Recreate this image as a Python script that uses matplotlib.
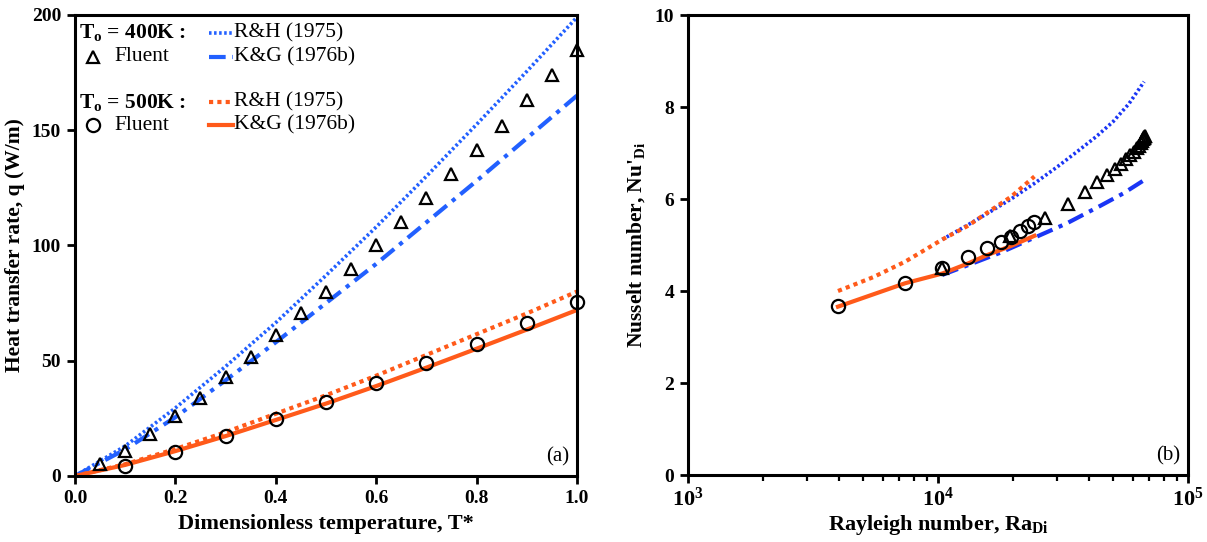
import matplotlib
matplotlib.use("Agg")
import matplotlib.pyplot as plt
from matplotlib.lines import Line2D
from matplotlib.ticker import FixedLocator, FixedFormatter, LogLocator, NullFormatter

plt.rcParams["font.family"] = ["Liberation Serif", "DejaVu Serif"]
plt.rcParams["mathtext.fontset"] = "custom"
plt.rcParams["mathtext.rm"] = "Liberation Serif"
plt.rcParams["mathtext.bf"] = "Liberation Serif:bold"

BLUE_A = "#2260ff"
BLUE_B = "#1a35f5"
ORANGE = "#ff5a1a"

# (a) heat transfer rate vs dimensionless temperature
t_400 = [0.05, 0.10, 0.15, 0.20, 0.25, 0.30, 0.35, 0.40, 0.45, 0.50,
         0.55, 0.60, 0.65, 0.70, 0.75, 0.80, 0.85, 0.90, 0.95, 1.00]
q_400_fluent = [5, 11, 18, 26, 34, 43, 51.5, 61, 70.5, 80,
                90, 100, 110, 120.5, 131, 141.5, 152, 163, 174, 185]
t_500 = [0.1, 0.2, 0.3, 0.4, 0.5, 0.6, 0.7, 0.8, 0.9, 1.0]
q_500_fluent = [4.5, 10.6, 17.2, 24.6, 32.3, 40.5, 48.8, 57.3, 66.5, 75.5]

t_line = [0.0, 0.1, 0.2, 0.3, 0.4, 0.5, 0.6, 0.7, 0.8, 0.9, 1.0]
q_400_rh = [0, 13, 29.5, 47.5, 66.5, 87, 108, 130, 152.5, 175.5, 199]
q_400_kg = [0, 11.5, 25.5, 41.5, 58, 75, 92, 110, 128, 146.5, 165]
q_500_rh = [0, 5.1, 11.7, 19.0, 27.0, 35.0, 43.5, 52.5, 61.5, 70.5, 80]
q_500_kg = [0, 4.8, 10.8, 17.3, 24.3, 31.4, 39.0, 47.0, 55.2, 63.5, 72]

# (b) Nusselt number vs Rayleigh number
ra_400_fluent = [10400, 19400, 26800, 33200, 38700, 43400, 47400, 50900, 53900, 56500,
                 58800, 60700, 62300, 63600, 64700, 65500, 66100, 66500, 66800, 67000]
nu_400_fluent = [4.51, 5.20, 5.58, 5.89, 6.15, 6.36, 6.52, 6.66, 6.77, 6.87,
                 6.95, 7.03, 7.10, 7.16, 7.21, 7.26, 7.30, 7.33, 7.35, 7.37]
ra_500_fluent = [3980, 7400, 10400, 13200, 15700, 17900, 19600, 21300, 22900, 24300]
nu_500_fluent = [3.67, 4.17, 4.49, 4.73, 4.93, 5.07, 5.18, 5.31, 5.41, 5.51]

ra_400_rh = [10400, 13000, 15800, 19600, 24300, 30000, 36000, 43000, 50100, 58000, 66700]
nu_400_rh = [5.12, 5.42, 5.69, 6.00, 6.34, 6.70, 7.03, 7.36, 7.68, 8.07, 8.55]
ra_400_kg = [10400, 13000, 17700, 24300, 32700, 44500, 55000, 66700]
nu_400_kg = [4.35, 4.55, 4.83, 5.16, 5.47, 5.85, 6.12, 6.41]
ra_500_rh = [3980, 5500, 7400, 10400, 13200, 15700, 19600, 24300]
nu_500_rh = [4.00, 4.30, 4.64, 5.12, 5.42, 5.70, 6.05, 6.49]
ra_500_kg = [3980, 7400, 10400, 13200, 15700, 19600, 24300]
nu_500_kg = [3.66, 4.17, 4.38, 4.60, 4.78, 4.98, 5.20]

DOT_A = (0, (0.7, 0.7))
DOT_O = (0, (1.0, 1.0))
DASHDOT = (0, (4, 1.6, 1.0, 1.6))

fig = plt.figure(figsize=(12.07, 5.42), dpi=100)
ax1 = fig.add_axes([0.0621, 0.1218, 0.4159, 0.8506])
ax2 = fig.add_axes([0.5700, 0.1236, 0.4143, 0.8487])

tri = dict(marker="^", ls="none", mfc="none", mec="black", ms=9, mew=1.6, clip_on=False, zorder=5)
circ = dict(marker="o", ls="none", mfc="none", mec="black", ms=9.5, mew=1.6, clip_on=False, zorder=5)

# panel (a)
ax1.plot(t_line, q_400_rh, color=BLUE_A, lw=2.6, ls=DOT_A)
ax1.plot(t_line, q_400_kg, color=BLUE_A, lw=3.0, ls=DASHDOT)
ax1.plot(t_line, q_500_rh, color=ORANGE, lw=3.0, ls=DOT_O)
ax1.plot(t_line, q_500_kg, color=ORANGE, lw=3.0)
ax1.plot(t_400, q_400_fluent, **tri)
ax1.plot(t_500, q_500_fluent, **circ)
ax1.set_xlim(0, 1)
ax1.set_ylim(0, 200)
ax1.set_xticks([0.0, 0.2, 0.4, 0.6, 0.8, 1.0])
ax1.set_xticklabels(["0.0", "0.2", "0.4", "0.6", "0.8", "1.0"])
ax1.set_yticks([0, 50, 100, 150, 200])
ax1.set_xlabel("Dimensionless temperature, T*", fontsize=16, fontweight="bold", labelpad=5)
ax1.set_ylabel("Heat transfer rate, q (W/m)", fontsize=15.5, fontweight="bold", labelpad=5)
ax1.text(0.985, 0.02, "(a)", transform=ax1.transAxes, ha="right", va="bottom", fontsize=15)

# legend block drawn by hand in axes fraction
tr = ax1.transAxes
rows = [0.961, 0.909, 0.811, 0.761]
ax1.text(0.008, rows[0], r"$\mathbf{T_o}$ = 400K :", transform=tr, fontsize=15.5,
         fontweight="bold", va="center")
ax1.text(0.008, rows[2], r"$\mathbf{T_o}$ = 500K :", transform=tr, fontsize=15.5,
         fontweight="bold", va="center")
ax1.add_line(Line2D([0.035], [rows[1]], transform=tr, **tri))
ax1.add_line(Line2D([0.035], [rows[3]], transform=tr, **circ))
ax1.text(0.078, rows[1], "Fluent", transform=tr, fontsize=15.5, va="center")
ax1.text(0.078, rows[3], "Fluent", transform=tr, fontsize=15.5, va="center")
samples = [(BLUE_A, DOT_A, 2.6), (BLUE_A, DASHDOT, 3.0), (ORANGE, DOT_O, 3.0), (ORANGE, "-", 3.0)]
names = ["R&H (1975)", "K&G (1976b)", "R&H (1975)", "K&G (1976b)"]
for y, (c, ls, lw), name in zip(rows, samples, names):
    ax1.add_line(Line2D([0.268, 0.315], [y, y], transform=tr, color=c, ls=ls, lw=lw))
    ax1.text(0.317, y, name, transform=tr, fontsize=15.5, va="center")

# panel (b)
ax2.set_xscale("log")
ax2.plot(ra_400_rh, nu_400_rh, color=BLUE_B, lw=2.6, ls=DOT_A)
ax2.plot(ra_400_kg, nu_400_kg, color=BLUE_B, lw=3.0, ls=DASHDOT)
ax2.plot(ra_500_rh, nu_500_rh, color=ORANGE, lw=3.0, ls=DOT_O)
ax2.plot(ra_500_kg, nu_500_kg, color=ORANGE, lw=3.0)
ax2.plot(ra_400_fluent, nu_400_fluent, **tri)
ax2.plot(ra_500_fluent, nu_500_fluent, **circ)
ax2.set_xlim(1e3, 1e5)
ax2.set_ylim(0, 10)
ax2.set_yticks([0, 2, 4, 6, 8, 10])
ax2.xaxis.set_major_locator(FixedLocator([1e3, 1e4, 1e5]))
ax2.xaxis.set_major_formatter(FixedFormatter([r"$\mathbf{10^{3}}$", r"$\mathbf{10^{4}}$", r"$\mathbf{10^{5}}$"]))
ax2.xaxis.set_minor_locator(LogLocator(base=10, subs=range(2, 10)))
ax2.xaxis.set_minor_formatter(NullFormatter())
ax2.set_xlabel(r"Rayleigh number, Ra$_\mathbf{Di}$", fontsize=16, fontweight="bold", labelpad=2)
ax2.set_ylabel(r"Nusselt number, Nu'$_\mathbf{Di}$", fontsize=15.5, fontweight="bold", labelpad=5)
ax2.text(0.985, 0.02, "(b)", transform=ax2.transAxes, ha="right", va="bottom", fontsize=15)

for ax in (ax1, ax2):
    for s in ax.spines.values():
        s.set_linewidth(2.2)
    ax.tick_params(which="major", direction="out", length=6, width=2.0, labelsize=14, pad=4)
    ax.tick_params(which="minor", direction="out", length=4, width=1.6)
    for lab in ax.get_xticklabels() + ax.get_yticklabels():
        lab.set_fontweight("bold")
ax2.tick_params(axis="x", which="major", labelsize=16, pad=3)

fig.savefig("out.png", dpi=100)
